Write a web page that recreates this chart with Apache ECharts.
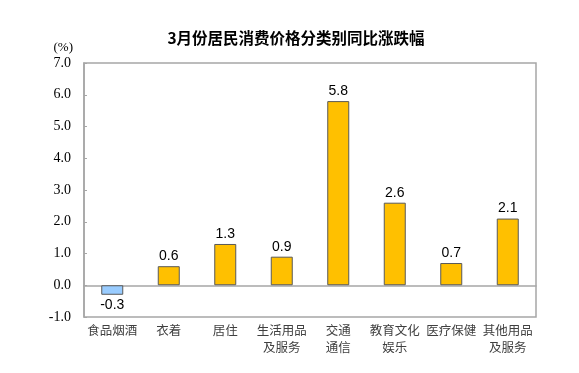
<!DOCTYPE html>
<html><head><meta charset="utf-8">
<script src="https://cdn.jsdelivr.net/npm/echarts@6/dist/echarts.min.js"></script>
<style>html,body{margin:0;padding:0;background:#fff}#c{width:579px;height:373px}</style>
</head><body><div id="c"></div>
<script>
const categories = ['食品烟酒','衣着','居住','生活用品\n及服务','交通\n通信','教育文化\n娱乐','医疗保健','其他用品\n及服务'];
const values = [-0.3, 0.6, 1.3, 0.9, 5.8, 2.6, 0.7, 2.1];
const yMin = -1, yMax = 7, yStep = 1;

const chart = echarts.init(document.getElementById('c'));
chart.setOption({
  backgroundColor: '#fff',
  animation: false,
  title: {
    text: '3月份居民消费价格分类别同比涨跌幅',
    left: 291, top: 25, textAlign: 'center',
    textStyle: {fontSize: 15.5, fontWeight: 'bold', color: '#000', fontFamily: '"Noto Sans CJK SC", sans-serif'}
  },
  grid: {left: 84, right: 43, top: 63, bottom: 56, show: true, borderColor: '#a6a6a6', borderWidth: 1.5},
  xAxis: {
    type: 'category', data: categories,
    axisLine: {onZero: true, lineStyle: {color: '#a6a6a6', width: 1.5}},
    axisTick: {show: false},
    axisLabel: {interval: 0, color: '#404040', fontSize: 12.5, lineHeight: 17, margin: 5,
      fontFamily: '"Noto Sans CJK SC", sans-serif'},
    position: 'bottom'
  },
  yAxis: {
    type: 'value', min: yMin, max: yMax, interval: yStep,
    name: '(%)', nameLocation: 'end', nameGap: 9,
    nameTextStyle: {color: '#000', fontSize: 13, fontFamily: '"Liberation Serif", serif', align: 'right', padding: [0, 11, 0, 0]},
    axisLine: {show: true, lineStyle: {color: '#a6a6a6', width: 1.5}},
    axisTick: {show: true, inside: true, length: 3, lineStyle: {color: '#a6a6a6'}},
    splitLine: {show: false},
    axisLabel: {color: '#000', fontSize: 14, margin: 13, fontFamily: '"Liberation Serif", serif', formatter: v => v.toFixed(1)}
  },
  series: [{
    type: 'bar', barWidth: 22,
    data: values.map(v => ({
      value: v,
      itemStyle: {color: v < 0 ? '#99ccff' : '#ffc000', borderColor: '#595959', borderWidth: 1},
      label: {show: true, position: v < 0 ? 'bottom' : 'top', distance: 3,
        color: '#000', fontSize: 14, fontFamily: '"Liberation Sans", Arial, sans-serif',
        formatter: p => p.value.toFixed(1)}
    }))
  }]
});
</script></body></html>
